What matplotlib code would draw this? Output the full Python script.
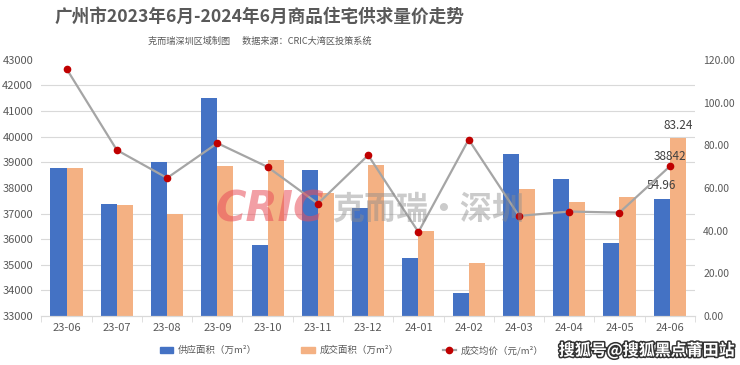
import matplotlib
matplotlib.use("Agg")
import matplotlib.pyplot as plt
import matplotlib.patheffects as pe
from matplotlib.patches import Patch
from matplotlib.lines import Line2D
import numpy as np

plt.rcParams['font.family'] = ['Noto Sans CJK SC', 'DejaVu Sans']

months = ["23-06", "23-07", "23-08", "23-09", "23-10", "23-11", "23-12",
          "24-01", "24-02", "24-03", "24-04", "24-05", "24-06"]
supply = [69.2, 52.4, 72.0, 102.3, 33.4, 68.3, 50.8, 27.3, 10.8, 76.1, 64.1, 34.2, 54.96]
deal = [69.2, 51.9, 47.7, 70.2, 73.1, 57.5, 70.6, 39.8, 24.8, 59.7, 53.3, 55.9, 83.24]
price = [42650, 39480, 38390, 39750, 38820, 37390, 39280, 36280, 39890, 36910, 37080, 37040, 38842]

grey = "#595959"
fig = plt.figure(figsize=(7.4, 3.65), dpi=100)
ax = fig.add_axes([0.056, 0.134, 0.883, 0.702])
ax2 = ax.twinx()
ax.set_zorder(ax2.get_zorder() + 1)
ax.patch.set_visible(False)

x = np.arange(len(months))
w = 0.32
ax2.bar(x - w / 2, supply, w, color="#4472C4", zorder=2)
ax2.bar(x + w / 2, deal, w, color="#F4B183", zorder=2)
ax2.set_ylim(0, 120)
ax2.set_yticks(np.arange(0, 121, 20))
ax2.set_yticklabels([f"{v:.2f}" for v in np.arange(0, 121, 20)])
ax2.set_yticks(np.linspace(0, 120, 11), minor=True)
ax2.grid(which="minor", axis="y", color="#D9D9D9", linewidth=0.8, zorder=0)
ax2.tick_params(axis="y", which="both", length=0, labelsize=7.5, labelcolor=grey, pad=6)

ax.plot(x, price, color="#A5A5A5", linewidth=1.6, marker="o", markersize=4.5,
        markerfacecolor="#C00000", markeredgecolor="#C00000", zorder=3)
ax.set_ylim(33000, 43000)
ax.set_yticks(np.arange(33000, 43001, 1000))
ax.tick_params(axis="y", length=0, labelsize=8, labelcolor=grey, pad=6)
ax.set_xlim(-0.5, len(months) - 0.5)
ax.set_xticks(x)
ax.set_xticklabels(months)
ax.set_xticks(np.arange(-0.5, len(months), 1), minor=True)
ax.tick_params(axis="x", which="major", length=0, labelsize=8, labelcolor=grey, pad=5)
ax.tick_params(axis="x", which="minor", length=4, color="#D9D9D9")

for a in (ax, ax2):
    for s in ["top", "left", "right"]:
        a.spines[s].set_visible(False)
    a.spines["bottom"].set_color("#D9D9D9")

# data labels on last month
ax2.text(x[-1] - w / 2, supply[-1] + 3, f"{supply[-1]:.2f}", ha="center", va="bottom",
         fontsize=8.5, color="#404040", zorder=5)
ax2.text(x[-1] + w / 2, deal[-1] + 3, f"{deal[-1]:.2f}", ha="center", va="bottom",
         fontsize=8.5, color="#404040", zorder=5)
ax.text(x[-1], price[-1] + 120, f"{price[-1]}", ha="center", va="bottom",
        fontsize=8.5, color="#404040", zorder=5)

# titles
fig.text(0.351, 0.953, "广州市2023年6月-2024年6月商品住宅供求量价走势", ha="center", va="center",
         fontsize=12.7, fontweight="bold", color=grey)
fig.text(0.351, 0.888, "克而瑞深圳区域制图      数据来源：CRIC大湾区投策系统", ha="center", va="center",
         fontsize=6.6, color=grey)

# watermark
fig.text(0.365, 0.425, "CRIC", ha="center", va="center", fontsize=30, fontweight="bold",
         style="italic", color="#E8505B", alpha=0.55, family="DejaVu Sans")
fig.text(0.578, 0.425, "克而瑞·深圳", ha="center", va="center", fontsize=23, fontweight="bold",
         color="#8C8C8C", alpha=0.45)

handles = [Patch(color="#4472C4"), Patch(color="#F4B183"),
           Line2D([], [], color="#A5A5A5", linewidth=1.6, marker="o", markersize=4.5,
                  markerfacecolor="#C00000", markeredgecolor="#C00000")]
labels = ["供应面积（万m²）", "成交面积（万m²）", "成交均价（元/m²）"]
fig.legend(handles, labels, loc="center left", bbox_to_anchor=(0.216, 0.04), ncol=3, frameon=False,
           fontsize=6.8, labelcolor=grey, handlelength=1.4, handleheight=0.6,
           handletextpad=0.5, columnspacing=4.7, borderpad=0, borderaxespad=0)

fig.text(0.993, 0.04, "搜狐号@搜狐黑点莆田站", ha="right", va="center", fontsize=11.5,
         fontweight="bold", color="white",
         path_effects=[pe.withStroke(linewidth=2.2, foreground="#333333")])

fig.savefig("out.png", dpi=100)
